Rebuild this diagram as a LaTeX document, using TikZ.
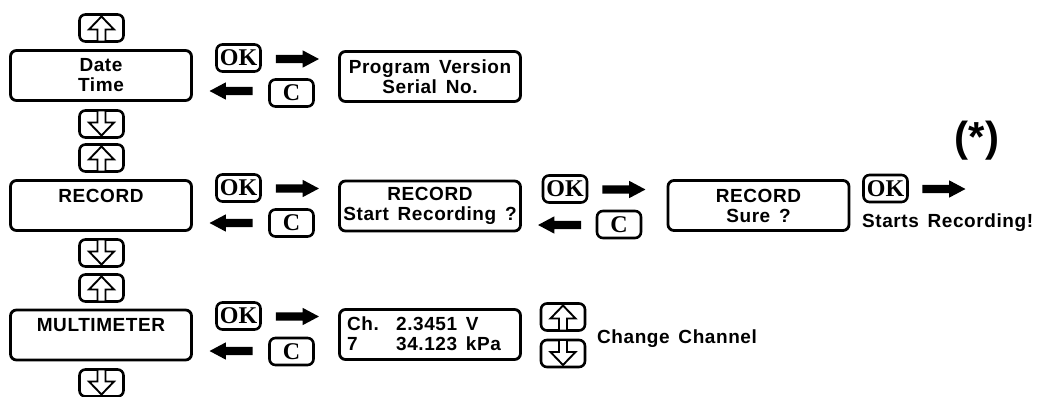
\documentclass[tikz,border=0pt]{standalone}
\usepackage{fontspec}
\newfontfamily\lblfont{Liberation Sans}[LetterSpace=3,WordSpace=1.5]
\newfontfamily\keyfont{Liberation Serif}
\newfontfamily\starfont{Liberation Sans}
\usetikzlibrary{shapes.arrows,calc}
\newcommand{\lblf}{\lblfont\bfseries\fontsize{19}{20}\selectfont}
\tikzset{
  bigbox/.style={draw, line width=2.8pt, rounded corners=6pt, minimum width=181pt, minimum height=50pt, inner sep=0pt, align=center, font=\lblf},
  keybox/.style={draw, line width=2.6pt, rounded corners=6pt, minimum width=44pt, minimum height=27pt, inner sep=0pt, font=\keyfont\bfseries\fontsize{24}{24}\selectfont},
  blk/.style={single arrow, fill=black, draw=none, inner sep=4pt, minimum height=43pt, single arrow head extend=4.5pt, single arrow tip angle=56},
  blkleft/.style={blk, shape border rotate=180},
  glyph/.style={draw, line width=1.9pt, fill=white, line join=miter},
  lbl/.style={font=\lblf, inner sep=0pt}
}
\newcommand{\upglyph}[1]{\draw[glyph, shift={(#1.center)}] (0,-11.5) -- (12.5,1.5) -- (4,1.5) -- (4,13.5) -- (-4,13.5) -- (-4,1.5) -- (-12.5,1.5) -- cycle;}
\newcommand{\downglyph}[1]{\draw[glyph, shift={(#1.center)}] (0,11.5) -- (12.5,-1.5) -- (4,-1.5) -- (4,-13.5) -- (-4,-13.5) -- (-4,-1.5) -- (-12.5,-1.5) -- cycle;}
\begin{document}
\begin{tikzpicture}[x=1pt,y=-1pt]
\useasboundingbox[fill=white] (0,0) rectangle (1040,396);
% left column
\node[keybox] (u1) at (101.5,28) {};
\node[bigbox] (date) at (101,75.5) {Date\\Time};
\node[keybox] (d1) at (101.5,124) {};
\node[keybox] (u2) at (101.5,158) {};
\node[bigbox] (rec) at (101,205.5) {RECORD\\\phantom{X}};
\node[keybox] (d2) at (101.5,253) {};
\node[keybox] (u3) at (101.5,288) {};
\node[bigbox] (multi) at (101,335) {MULTIMETER\\\phantom{X}};
\node[keybox] (d3) at (101.5,383) {};
\upglyph{u1}\downglyph{d1}\upglyph{u2}\downglyph{d2}\upglyph{u3}\downglyph{d3}
% row 1
\node[keybox] (ok1) at (238.5,58) {OK};
\node[blk] (r1) at (293.5,59) {};
\node[keybox] (c1) at (291.5,93) {C};
\node[blkleft] (l1) at (235,91) {};
\node[bigbox] (prog) at (430,76.5) {Program Version\\Serial No.};
% row 2
\node[keybox] (ok2) at (238.5,188) {OK};
\node[blk] (r2) at (293.5,188.5) {};
\node[keybox] (c2) at (291.5,223) {C};
\node[blkleft] (l2) at (235,223) {};
\node[bigbox] (start) at (430,206) {RECORD\\Start Recording ?};
\node[keybox] (ok4) at (565,189) {OK};
\node[blk] (r4) at (620,189.5) {};
\node[keybox] (c4) at (619,224.5) {C};
\node[blkleft] (l4) at (563.5,225) {};
\node[bigbox] (sure) at (758.5,205.5) {RECORD\\Sure ?};
\node[keybox] (ok5) at (885.5,188.5) {OK};
\node[blk] (r5) at (940,189) {};
\node[lbl, anchor=base west] (starts) at (862,227.5) {Starts Recording!};
\node[inner sep=0pt, font=\starfont\bfseries\fontsize{42}{42}\selectfont] (star) at (977,141) {(*)};
% row 3
\node[keybox] (ok3) at (238.5,316) {OK};
\node[blk] (r3) at (293.5,316.5) {};
\node[keybox] (c3) at (291.5,351.5) {C};
\node[blkleft] (l3) at (235,351) {};
\node[bigbox] (disp) at (430,334.5) {};
\node[lbl, anchor=west, align=left] (disptext) at (347,334) {\makebox[49pt][l]{Ch.}2.3451 V\\\makebox[49pt][l]{7}34.123 kPa};
\node[keybox] (u4) at (563,317) {};
\node[keybox] (d4) at (563,353.5) {};
\upglyph{u4}\downglyph{d4}
\node[lbl, anchor=base west] (chg) at (597,343) {Change Channel};
\end{tikzpicture}
\end{document}
